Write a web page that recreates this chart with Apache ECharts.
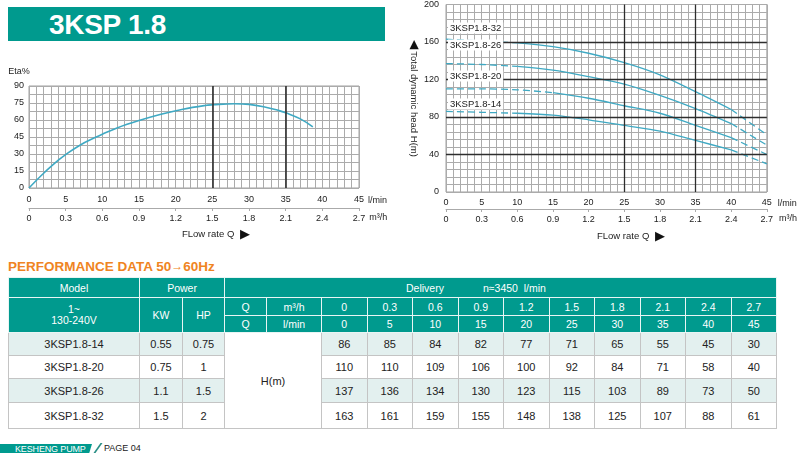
<!DOCTYPE html>
<html><head><meta charset="utf-8">
<script src="https://cdn.jsdelivr.net/npm/echarts@6/dist/echarts.min.js"></script>
<style>
html,body{margin:0;padding:0;background:#fff;width:800px;height:453px;overflow:hidden;font-family:"Liberation Sans",Arial,sans-serif;}
#chart{position:absolute;left:0;top:0;width:800px;height:250px;}
.band{position:absolute;left:8px;top:7px;width:377px;height:34px;background:#009a8e;}
.band span{position:absolute;left:41px;top:0;line-height:36px;font-size:28px;font-weight:bold;color:#fff;letter-spacing:-0.3px;}
.ptitle{position:absolute;left:8px;top:258px;font-size:13.5px;font-weight:bold;color:#ef8422;line-height:16px;white-space:nowrap;}
#tbl{position:absolute;left:8px;top:277px;width:768px;border-collapse:collapse;table-layout:fixed;font-size:11px;color:#222;border:1px solid #bdbdbd;}
#tbl td{text-align:center;padding:0;border:1px solid #c4c4c4;white-space:nowrap;}
#tbl tr.h td{background:#009a8e;color:#fff;border:1px solid #e8f5f4;font-size:10.5px;}
.foot{position:absolute;left:0;top:444px;width:92px;height:9px;background:#009a8e;color:#fff;font-size:9px;line-height:10px;padding-left:15px;box-sizing:border-box;clip-path:polygon(0 0,100% 0,97% 100%,0 100%);white-space:nowrap;letter-spacing:-0.15px;}
.slash{position:absolute;left:97px;top:443px;width:1.6px;height:10px;background:#2a8f86;transform:skewX(-35deg);}
.page{position:absolute;left:104px;top:443px;font-size:9px;line-height:10px;color:#222;white-space:nowrap;}
</style></head>
<body>
<div class="band"><span>3KSP 1.8</span></div>
<div id="chart"></div>
<div class="ptitle">PERFORMANCE DATA 50<span style="font-weight:normal;font-size:12px;vertical-align:1px">→</span>60Hz</div>
<table id="tbl"></table>
<div class="foot">KESHENG PUMP</div>
<div class="slash"></div>
<div class="page">PAGE 04</div>
<script>
// ---- data ----
const flowLmin = [0, 5, 10, 15, 20, 25, 30, 35, 40, 45];
const flowM3h = ['0', '0.3', '0.6', '0.9', '1.2', '1.5', '1.8', '2.1', '2.4', '2.7'];
const models = ['3KSP1.8-14', '3KSP1.8-20', '3KSP1.8-26', '3KSP1.8-32'];
const powerKW = ['0.55', '0.75', '1.1', '1.5'];
const powerHP = ['0.75', '1', '1.5', '2'];
const head14 = [86, 85, 84, 82, 77, 71, 65, 55, 45, 30];
const head20 = [110, 110, 109, 106, 100, 92, 84, 71, 58, 40];
const head26 = [137, 136, 134, 130, 123, 115, 103, 89, 73, 50];
const head32 = [163, 161, 159, 155, 148, 138, 125, 107, 88, 61];
const etaFlow = [0, 2, 4, 5, 7, 9, 10, 12, 15, 18, 21, 24, 25, 28, 30, 32, 34, 35, 37, 38.7];
const etaValue = [0, 13, 24.5, 29.5, 38, 44.5, 47.5, 53, 59.5, 65, 69.5, 72.8, 73.4, 74.4, 73.8, 71.7, 68.5, 66.4, 61, 54];
const heads = [head14, head20, head26, head32];
// index where dashed start segment ends / dashed end segment begins
const dashStartEnd = [2, 3, 2, 2];
const dashEndStart = [8, 8, 8, 8];

// ---- table ----
(function(){
  const rowH = [23, 23, 24, 26];
  let h = '<colgroup><col style="width:131px"><col style="width:43px"><col style="width:42px"><col style="width:42px"><col style="width:55px">' +
    flowLmin.map(() => '<col style="width:45.5px">').join('') + '</colgroup>';
  h += '<tr class="h" style="height:20px"><td>Model</td><td colspan="2">Power</td>' +
       '<td colspan="12" style="text-align:left;padding-left:181px">Delivery<span style="margin-left:39px">n≈3450&nbsp; l/min</span></td></tr>';
  h += '<tr class="h" style="height:18px"><td rowspan="2" style="line-height:11px">1~<br>130-240V</td><td rowspan="2">KW</td><td rowspan="2">HP</td><td>Q</td><td>m³/h</td>' +
       flowM3h.map(v => '<td>' + v + '</td>').join('') + '</tr>';
  h += '<tr class="h" style="height:17px"><td>Q</td><td>l/min</td>' + flowLmin.map(v => '<td>' + v + '</td>').join('') + '</tr>';
  models.forEach((m, i) => {
    const bg = i % 2 === 0 ? '#e3f0ef' : '#ffffff';
    h += '<tr style="height:' + rowH[i] + 'px;background:' + bg + '"><td>' + m + '</td><td>' + powerKW[i] + '</td><td>' + powerHP[i] + '</td>' +
      (i === 0 ? '<td rowspan="4" colspan="2" style="background:#fff">H(m)</td>' : '') +
      heads[i].map(v => '<td>' + v + '</td>').join('') + '</tr>';
  });
  document.getElementById('tbl').innerHTML = h;
})();

// ---- charts ----
const FONT = '"Liberation Sans", Arial, sans-serif';
const GRID_C = '#ababab';
const CURVE = '#3fa9c3';
const DARK = '#2e2e2e';

function primaryX(grid, margin) {
  return {
    gridIndex: grid, type: 'value', min: 0, max: 45, interval: 5, position: 'bottom',
    axisLine: {show: false}, axisTick: {show: false},
    axisLabel: {margin: margin, fontSize: 9, color: '#222', fontFamily: FONT},
    splitLine: {show: true, lineStyle: {color: GRID_C, width: 1}},
    minorTick: {show: false, splitNumber: 5},
    minorSplitLine: {show: true, lineStyle: {color: GRID_C, width: 1}},
    name: 'l/min', nameLocation: 'end', nameGap: 7,
    nameTextStyle: {fontSize: 9, color: '#222', fontFamily: FONT, verticalAlign: 'top', align: 'left', padding: [margin + 1, 0, 0, 0]}
  };
}
function secondaryX(grid, offset) {
  return {
    gridIndex: grid, type: 'value', min: 0, max: 45, interval: 5, position: 'bottom', offset: offset,
    axisLine: {show: true, lineStyle: {color: '#aaaaaa', width: 1}},
    axisTick: {show: true, length: 3, lineStyle: {color: '#aaaaaa'}},
    axisLabel: {margin: 6, fontSize: 9, color: '#222', fontFamily: FONT,
      formatter: v => flowM3h[flowLmin.indexOf(v)]},
    splitLine: {show: false},
    name: 'm³/h', nameLocation: 'end', nameGap: 9,
    nameTextStyle: {fontSize: 9, color: '#222', fontFamily: FONT, verticalAlign: 'top', align: 'left', padding: [5, 0, 0, 0]}
  };
}

const series = [];
series.push({
  type: 'line', xAxisIndex: 0, yAxisIndex: 0, z: 3,
  data: etaFlow.map((x, i) => [x, etaValue[i]]),
  smooth: 0.4, symbol: 'none', lineStyle: {color: CURVE, width: 1.6}
});
series.push({
  type: 'line', xAxisIndex: 0, yAxisIndex: 0, z: 1, data: [], silent: true,
  markLine: {silent: true, symbol: 'none', label: {show: false}, animation: false,
    lineStyle: {color: DARK, width: 1.6, type: 'solid'},
    data: [{xAxis: 25}, {xAxis: 35}]}
});
series.push({
  type: 'line', xAxisIndex: 2, yAxisIndex: 1, z: 1, data: [], silent: true,
  markLine: {silent: true, symbol: 'none', label: {show: false}, animation: false,
    lineStyle: {color: DARK, width: 1.3, type: 'solid'},
    data: [{xAxis: 25}, {xAxis: 35}, {yAxis: 40}, {yAxis: 80}, {yAxis: 120}, {yAxis: 160}]}
});
heads.forEach((hd, k) => {
  const pts = flowLmin.map((x, i) => [x, hd[i]]);
  const a = dashStartEnd[k], b = dashEndStart[k];
  const parts = [
    {d: pts.slice(0, a + 1), dash: [7, 4]},
    {d: pts.slice(a, b + 1), dash: 'solid'},
    {d: pts.slice(b), dash: [7, 4]}
  ];
  parts.forEach(p => series.push({
    type: 'line', xAxisIndex: 2, yAxisIndex: 1, z: 3, data: p.d,
    smooth: 0.3, symbol: 'none',
    lineStyle: {color: CURVE, width: 1.3, type: p.dash}
  }));
});

const labelPos = [104, 76, 45, 28];
const graphic = models.map((m, i) => ({
  type: 'text', x: 448, y: labelPos[i], z: 100,
  style: {text: m, fill: '#222', font: '9.5px ' + FONT, align: 'left', verticalAlign: 'middle',
    backgroundColor: '#fff', padding: [1, 2, 0, 2]}
}));
[[182, 234], [597, 236]].forEach(p => graphic.push({
  type: 'text', x: p[0], y: p[1], z: 100,
  style: {text: 'FLow rate Q  {t|▶}', fill: '#222', font: '9.5px ' + FONT, verticalAlign: 'middle',
    rich: {t: {fontSize: 13, fill: '#111', verticalAlign: 'middle'}}}
}));

const chart = echarts.init(document.getElementById('chart'), null, {renderer: 'canvas'});
chart.setOption({
  animation: false,
  textStyle: {fontFamily: FONT},
  grid: [
    {left: 29, top: 86, width: 330, height: 102, show: true, borderColor: '#a0a0a0', borderWidth: 1, containLabel: false},
    {left: 446, top: 4, width: 328, height: 188, show: true, borderColor: '#a0a0a0', borderWidth: 1, containLabel: false}
  ],
  xAxis: [primaryX(0, 7), secondaryX(0, 20), primaryX(1, 6), secondaryX(1, 17)],
  yAxis: [
    {gridIndex: 0, type: 'value', min: 0, max: 90, interval: 15,
     axisLine: {show: false}, axisTick: {show: false},
     axisLabel: {margin: 5, fontSize: 9, color: '#222', fontFamily: FONT},
     splitLine: {show: true, lineStyle: {color: GRID_C}},
     minorTick: {show: false, splitNumber: 2},
     minorSplitLine: {show: true, lineStyle: {color: GRID_C}},
     name: 'Eta%', nameLocation: 'end', nameGap: 10,
     nameTextStyle: {fontSize: 9, color: '#222', fontFamily: FONT, padding: [0, 20, 0, 0]}},
    {gridIndex: 1, type: 'value', min: 0, max: 200, interval: 40,
     axisLine: {show: false}, axisTick: {show: false},
     axisLabel: {margin: 7, fontSize: 9, color: '#222', fontFamily: FONT},
     splitLine: {show: true, lineStyle: {color: GRID_C}},
     minorTick: {show: false, splitNumber: 5},
     minorSplitLine: {show: true, lineStyle: {color: GRID_C}},
     name: '{t|◀} Total dynamic head H(m)', nameLocation: 'middle', nameGap: 24, nameRotate: -90,
     nameTextStyle: {fontSize: 9.5, color: '#222', fontFamily: FONT,
       rich: {t: {fontSize: 12, color: '#111'}}}}
  ],
  graphic: graphic,
  series: series
});
</script>
</body></html>
